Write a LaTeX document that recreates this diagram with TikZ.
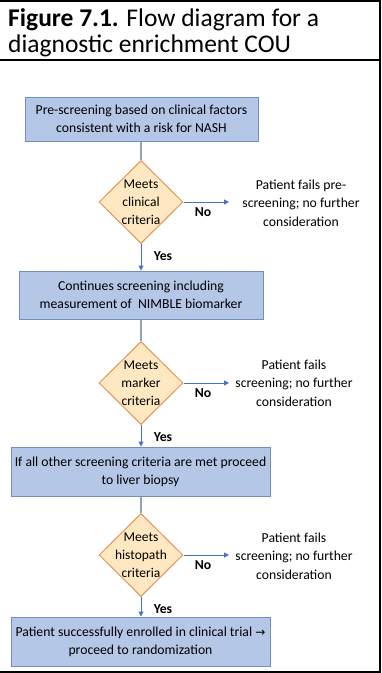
\documentclass[tikz,border=0pt]{standalone}
\usepackage{fontspec}
\setmainfont{Carlito}
\newfontfamily\arrowfont{DejaVu Sans}
\usetikzlibrary{shapes.geometric,arrows.meta}

\definecolor{boxfill}{HTML}{B4C7E7}
\definecolor{boxline}{HTML}{6F8EC2}
\definecolor{decfill}{HTML}{FEE8C2}
\definecolor{decline}{HTML}{E3955A}
\definecolor{flowblue}{HTML}{4472C4}
\definecolor{linkgray}{HTML}{8FA3C0}

\tikzset{
    stage/.style={draw=boxline, fill=boxfill, line width=1pt, align=center,
        inner sep=0pt, font=\fontsize{13.7}{18}\selectfont},
    decision/.style={diamond, draw=decline, fill=decfill, line width=1pt,
        inner sep=0pt, minimum width=84pt, minimum height=83pt},
    dectext/.style={align=center, font=\fontsize{13.5}{18}\selectfont},
    failtext/.style={align=center, font=\fontsize{13.7}{18.5}\selectfont},
    flow/.style={draw=flowblue, line width=1pt, -{Triangle[length=5pt,width=5pt]}},
    link/.style={draw=linkgray, line width=1.3pt},
    tag/.style={font=\bfseries\fontsize{13.7}{16}\selectfont},
}

\begin{document}
\begin{tikzpicture}[x=1pt,y=-1pt]
    \useasboundingbox (0,0) rectangle (382,673);

    % Frame and title row
    \draw[line width=2pt] (0,1) -- (380,1) -- (380,672) -- (0,672);
    \draw[line width=2pt] (0,60) -- (380,60);
    \node[anchor=north west, inner sep=0pt, align=left,
        font=\fontsize{25.5}{26.5}\selectfont] (title) at (8,8)
        {\textbf{Figure 7.1.} Flow diagram for a\\diagnostic enrichment COU};

    % Process boxes
    \node[stage, minimum width=233pt, minimum height=44pt] (pre) at (141.5,119)
        {Pre-screening based on clinical factors\\consistent with a risk for NASH};
    \node[stage, minimum width=244pt, minimum height=48pt] (screen) at (141,295)
        {Continues screening including\\measurement of \ NIMBLE biomarker};
    \node[stage, minimum width=259pt, minimum height=49pt] (biopsy) at (140.5,471.5)
        {If all other screening criteria are met proceed\\to liver biopsy};
    \node[stage, minimum width=259pt, minimum height=49pt] (enrol) at (140.5,641.5)
        {Patient successfully enrolled in clinical trial {\arrowfont\fontsize{12}{18}\selectfont →}\\proceed to randomization};

    % Decisions, with their No arrow and the Yes / No tags
    \foreach \y/\crit/\name in {202/clinical/d1, 383/marker/d2, 555/histopath/d3} {
        \node[decision] (\name) at (141,\y) {};
        \node[dectext] (\name-t) at (\name) {Meets\\\crit\\criteria};
        \coordinate (\name-n) at (229,\y);
        \draw[flow] (\name.east) -- (\name-n);
        \node[tag] (\name-no) at (203,\y+10) {No};
        \node[tag] (\name-yes) at (163,\y+54) {Yes};
    }

    % Outcomes for a failed check
    \node[failtext] (fail1) at (301,203) {Patient fails pre-\\screening; no further\\consideration};
    \node[failtext] (fail2) at (294,383) {Patient fails\\screening; no further\\consideration};
    \node[failtext] (fail3) at (294,556) {Patient fails\\screening; no further\\consideration};

    % Flow down the page
    \draw[link] (pre.south -| d1.north) -- (d1.north);
    \draw[flow] (d1.south) -- (screen.north -| d1.south);
    \draw[link] (screen.south -| d2.north) -- (d2.north);
    \draw[flow] (d2.south) -- (biopsy.north -| d2.south);
    \draw[link] (biopsy.south -| d3.north) -- (d3.north);
    \draw[flow] (d3.south) -- (enrol.north -| d3.south);
\end{tikzpicture}
\end{document}
